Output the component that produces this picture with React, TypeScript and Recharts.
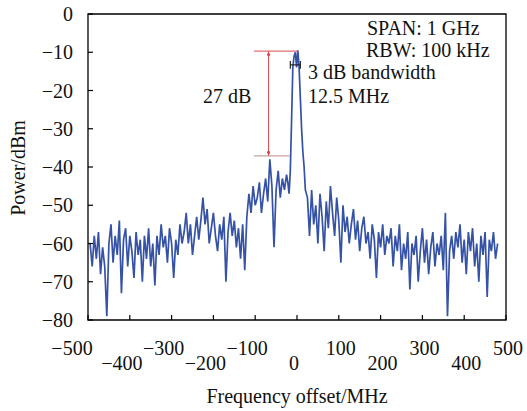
import {
  LineChart, Line, XAxis, YAxis, ReferenceLine, ReferenceArea, ReferenceDot,
} from 'recharts';

// Spectrum read off the figure (dBm). Noise floor sampled every 5 MHz,
// the carrier region sampled more finely.
const LEFT_START = -495;
const STEP = 5;
const LEFT_P = [
  -60, -66, -58, -64, -57, -68, -61, -66, -79, -60,
  -55, -65, -58, -63, -54, -73, -59, -56, -66, -58,
  -62, -69, -57, -63, -59, -70, -58, -64, -56, -66,
  -60, -71, -58, -63, -55, -61, -58, -65, -56, -60,
  -69, -59, -63, -55, -60, -57, -52, -60, -55, -63,
  -58, -53, -59, -54, -48, -55, -51, -60, -56, -52,
  -58, -62, -55, -59, -53, -70, -57, -52, -58, -54,
  -61, -56, -64, -55, -67, -53, -47, -52, -45, -50,
  -48, -44, -52, -47, -43, -49, -38, -45, -61, -46,
  -41, -48, -43, -46, -42,
];

const PEAK_F = [-22, -19, -16, -13, -10, -7, -4, -1, 2, 5, 8, 11, 14, 17, 20];
const PEAK_P = [-44, -47, -41, -28, -14, -11, -10, -14, -9.5, -14, -22, -30, -36, -40, -46];

const RIGHT_START = 25;
const RIGHT_P = [
  -48, -58, -46, -55, -50, -60, -47, -53, -62, -49,
  -56, -45, -52, -58, -48, -54, -65, -50, -57, -53,
  -60, -55, -51, -59, -54, -62, -56, -53, -60, -57,
  -64, -55, -59, -69, -57, -61, -55, -63, -58, -60,
  -56, -66, -58, -62, -55, -67, -60, -64, -57, -72,
  -60, -63, -58, -70, -62, -56, -65, -59, -68, -61,
  -57, -66, -60, -63, -58, -67, -52, -79, -62, -58,
  -64, -57, -61, -55, -65, -59, -68, -57, -62, -56,
  -66, -60, -70, -58, -63, -57, -74, -59, -62, -57,
  -64, -60,
];

const X_TICKS = [-500, -400, -300, -200, -100, 0, 100, 200, 300, 400, 500];
const Y_TICKS = [0, -10, -20, -30, -40, -50, -60, -70, -80];

const data = [
  ...LEFT_P.map((p, i) => ({ f: LEFT_START + i * STEP, p })),
  ...PEAK_F.map((f, i) => ({ f, p: PEAK_P[i] })),
  ...RIGHT_P.map((p, i) => ({ f: RIGHT_START + i * STEP, p })),
];

const W = 527;
const H = 411;
const PLOT_LEFT = 88;
const PLOT_BOTTOM = 320;
const FONT = "'Liberation Serif', 'Times New Roman', serif";
const LINE_COLOR = '#3552a6';
const RED = '#d9484a';

function XTick({ payload }: any) {
  const v = payload.value as number;
  const x = payload.coordinate as number;
  const low = Math.abs(v / 100) % 2 === 0; // even hundreds sit on the lower row
  const dx = v === -500 ? -16 : v < 0 ? -8 : v === 0 ? -3 : 2;
  return (
    <g>
      <line x1={x} x2={x} y1={PLOT_BOTTOM} y2={PLOT_BOTTOM - 5} stroke="#000" strokeWidth={1.2} />
      <text x={x + dx} y={low ? 370 : 355} textAnchor="middle"
        fontFamily={FONT} fontSize={20} fill="#111">
        {v < 0 ? `\u2212${-v}` : v}
      </text>
    </g>
  );
}

function YTick({ payload }: any) {
  const v = payload.value as number;
  const y = payload.coordinate as number;
  return (
    <g>
      <line x1={PLOT_LEFT} x2={PLOT_LEFT + 5} y1={y} y2={y} stroke="#000" strokeWidth={1.2} />
      <text x={73} y={y + 7} textAnchor="end" fontFamily={FONT} fontSize={20} fill="#111">
        {v < 0 ? `\u2212${-v}` : v}
      </text>
    </g>
  );
}

export default function App() {
  return (
    <div style={{ position: 'absolute', left: 0, top: 0, width: W, height: H, background: '#fff' }}>
      <LineChart width={W} height={H} data={data}
        margin={{ top: 14, right: 21, bottom: 0, left: 0 }}>
        <XAxis dataKey="f" type="number" domain={[-500, 500]} ticks={X_TICKS}
          height={91} axisLine={false} tickLine={false} tick={<XTick />} interval={0} />
        <YAxis type="number" domain={[-80, 0]} ticks={Y_TICKS} width={88}
          axisLine={false} tickLine={false} tick={<YTick />} interval={0} />
        <Line type="linear" dataKey="p" stroke={LINE_COLOR} strokeWidth={1.7}
          strokeLinejoin="miter" dot={false} isAnimationActive={false} />

        {/* 27 dB marker */}
        <ReferenceLine segment={[{ x: -103, y: -9.7 }, { x: 2, y: -9.7 }]} stroke={RED} strokeWidth={1} />
        <ReferenceLine segment={[{ x: -103, y: -37.1 }, { x: -17, y: -37.1 }]} stroke="#c9a0a0" strokeWidth={1.2} />
        <ReferenceLine segment={[{ x: -68, y: -9.7 }, { x: -68, y: -37.1 }]} stroke={RED} strokeWidth={1} />
        <ReferenceDot x={-68} y={-10.6} r={1.6} fill={RED} stroke="none" />
        <ReferenceDot x={-68} y={-36.2} r={1.6} fill={RED} stroke="none" />

        {/* 3 dB bandwidth bracket */}
        <ReferenceLine segment={[{ x: -16, y: -13.3 }, { x: 8, y: -13.3 }]} stroke="#222" strokeWidth={1.2} />
        <ReferenceLine segment={[{ x: -16, y: -12.3 }, { x: -16, y: -14.3 }]} stroke="#222" strokeWidth={1.2} />
        <ReferenceLine segment={[{ x: 8, y: -12.3 }, { x: 8, y: -14.3 }]} stroke="#222" strokeWidth={1.2} />

        {/* plot frame */}
        <ReferenceArea x1={-500} x2={500} y1={-80} y2={0} fill="none" stroke="#000" strokeWidth={1.3} />
      </LineChart>

      <svg width={W} height={H} style={{ position: 'absolute', left: 0, top: 0, pointerEvents: 'none' }}>
        <g fontFamily={FONT} fontSize={20} fill="#111">
          <text x={367} y={35}>SPAN: 1 GHz</text>
          <text x={366} y={57}>RBW: 100 kHz</text>
          <text x={308} y={79}>3 dB bandwidth</text>
          <text x={308} y={103}>12.5 MHz</text>
          <text x={203} y={103}>27 dB</text>
          <text x={297} y={403} textAnchor="middle">Frequency offset/MHz</text>
          <text x={18} y={168} textAnchor="middle" dominantBaseline="central"
            transform="rotate(-90 18 168)">Power/dBm</text>
        </g>
      </svg>
    </div>
  );
}
